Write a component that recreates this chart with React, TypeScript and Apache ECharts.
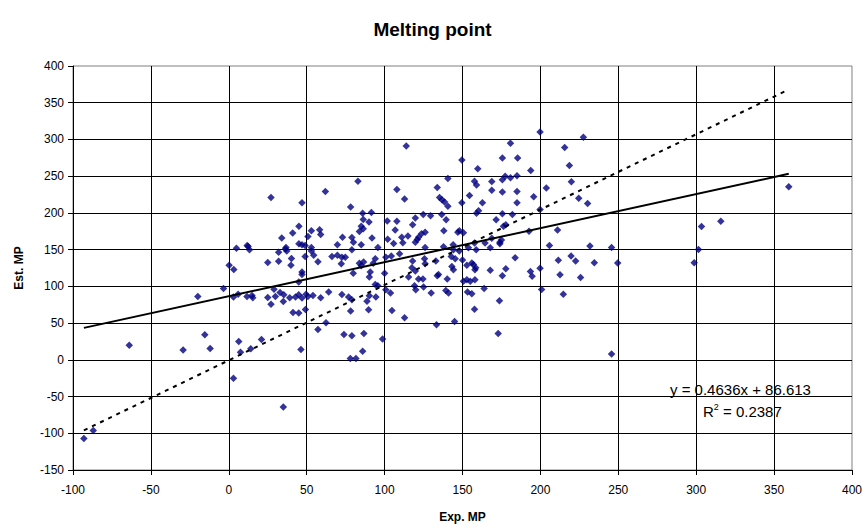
import React, { useEffect, useRef } from "react";
import * as echarts from "echarts";

const EXP_MP: number[] = [
  // upper-left block
  27.1, 47, 62, 45, 34, 41, 50.8, 53, 58.3, 59, 11.8, 4.9, 36.7, 45, 47, 49, 53, 69.7,
  // upper-middle block
  113.9, 149.6, 159.8, 82.9, 140.6, 107.9, 133.8, 157.7, 159, 112.8, 135.3, 136.8, 138.5, 140.6,
  154.5, 162.8, 149.6, 78.2, 85.9, 91.5, 160.3, 159, 101.7, 107.9, 90, 86.3, 85, 83.8, 86.3,
  119.7, 124.8, 129.5, 118, 136.7, 139.5, 138, 106.8, 111, 115, 102, 105.8, 111.7, 126, 123.7,
  121.8, 121, 119.7, 148, 150.6, 147, 73, 79, 80, 85, 91.9, 95.7, 126, 137.8, 144, 157.7, 164.5,
  // upper-right block
  199.8, 227.6, 180.8, 215.6, 175.6, 185.4, 218.6, 193.8, 168.8, 175.6, 177.4, 180.8, 185,
  219.9, 168.8, 175.6, 185, 203.8, 195.7, 224.6, 230.3, 185, 199.8, 175.6, 182, 171.6, 177.8,
  176.3, 192.7, 211, 168.8, 174, 175, 205.8, 231.8, 245.7,
  // lower-left block
  12.4, 13.3, 32, 36.3, 37.2, 40.2, 25, 32, 39.9, 0.2, 3.2, 47, 47, 44.9, 49, 53, 54.5, 57.2,
  66.2, 69.7, -3.4, 3, 6, 11.7, 14.9, 15.4, 25, 27.1, 29.9, 32.9, 35.3, 35, 39.1, 29, 42.8, 44.9,
  47, 49.6, 50.8, 54, 59, 64.1, 41.2, 44.9, 49.2, 62.4, 57.2, -15.4, -12, 6.4, 7.5, 14.1, 21, 46.3,
  // lower-middle block
  79, 72.6, 74.8, 72.2, 100.8, 104.3, 109.6, 94, 92.7, 83.8, 86.5, 85, 90.8, 90.2, 79.9, 100,
  118, 119.7, 117.5, 121.8, 124.6, 126, 125.6, 115.4, 119.2, 120, 125, 132.9, 134.6, 133.8,
  140.2, 143.2, 144.2, 142.8, 145.3, 144.2, 147.9, 129.9, 139.3, 141, 94, 95.7, 94.4, 100.8,
  103.8, 90.2, 88.7, 89.7, 79, 76.9, 72.6, 78.2, 104.7, 112.8, 133.3, 144.9, 73.9, 79, 86.7,
  98.7, 85.9, 78, 81.6, 150, 152.8, 157, 158.5, 156, 158, 152.8, 150.6, 155, 158, 163.9, 157.7,
  153.2, 156, 153.8, 158.8,
  // lower-right block
  167.8, 174, 183.8, 167.8, 177.8, 175.6, 193.6, 194.7, 199.8, 211.5, 219.7, 222.6, 234.6,
  249.6, 212.6, 225.8, 200.8, 214.7, 173.7, 172.9, 245.7,
  // outliers
  -63.9, -29.3, -87, -93, -19.9, 359.4, 315.8, 303.4, 301.5, 298.7, 3, 35,
];

const EST_MP: number[] = [
  221, 213.7, 229, 182, 166, 172.5, 168, 175.6, 177, 170.6, 155.6, 152, 153, 158, 156.6, 155.6, 153, 156.6,
  291, 272, 260, 243, 247, 232, 234.6, 243, 238, 218.8, 221, 218, 215, 209,
  223.7, 214, 213.7, 208, 199.7, 200.5, 203, 199.7, 189, 188.8, 187.5, 191, 182, 174.7, 178.4,
  193, 198, 196, 183.8, 198, 190.6, 175.6, 176.6, 167, 168.4, 164, 158.4, 159.3, 173.8, 171.5,
  167, 163.8, 160.2, 175.6, 172.9, 173.8, 167, 166.5, 160, 156.6, 166, 153, 153, 154, 156.6, 159, 159,
  310, 303, 295, 289, 274.6, 274.6, 264.5, 257.7, 242.8, 245, 250, 248, 250.5,
  242.3, 231, 228.3, 229, 234, 222, 220, 212.8, 213.7, 204.6, 198.8, 197.8, 190.6, 183.8,
  182, 175, 176.6, 165.6, 160.2, 163, 155.6, 154.8, 152.9,
  154.3, 149.8, 146.6, 150.7, 148, 138, 132.5, 134.3, 128.9, 128.9, 123, 119.4, 116.1, 105.8, 140.6, 148, 142.5, 133.4,
  140.6, 142.5, 97, 85.4, 89.3, 86.2, 87.5, 84.4, 84.8, 75.7, 86.2, 91.6, 88.5, 79.4, 84.4, 96, 85.4, 88.5,
  84, 89.4, 86.2, 87.5, 84.4, 92.2, 64.4, 63.6, 68.5, 50.4, 41.3, 34, 15.4, 24.9, 10.4, 15, 27.6, 14,
  149.8, 139.8, 139.8, 130.7, 139.8, 141.2, 144.3, 137.5, 131.6, 131.6, 133, 128, 119.4, 112.6, 118, 118,
  134.4, 120.8, 125.3, 109.9, 109.9, 130.7, 137.5, 112.6, 100.8, 95.3, 99, 134.4, 116.1, 114.4,
  109.9, 127, 122.5, 140.6, 137.5, 149.8, 148, 90.8, 94.3, 90.8, 102.5, 100.8, 85.4, 95.3,
  90.8, 87.1, 79.9, 68, 81.7, 85.4, 88.9, 66.3, 67.1, 57.2, 47.6, 52.1, 34.4, 32.7, 35.8,
  28.2, 11.8, 1.8, 1.8, 136, 128.9, 129.8, 125.3, 131.7, 122.5, 108.9, 107.1, 107.1, 108.9, 97, 69,
  92.2, 89.9, 152.5, 149.8,
  152.5, 157.9, 138.9, 122, 123.9, 114.4, 120.2, 113.9, 124.8, 135.7, 141.2, 134.4, 132,
  131.7, 115.7, 112, 95.7, 89.3, 80.3, 35.8, 7.8,
  20, 13.2, -96.2, -107, 86.2, 235.5, 188.8, 181.5, 150.2, 132, -25, -64.4,
];

// Linear trend line shown on the chart, and its labels
const TREND_SLOPE = 0.4636;
const TREND_INTERCEPT = 86.613;
const EQUATION_TEXT = "y = 0.4636x + 86.613";
const R_SQUARED_TEXT = "0.2387";

// Dashed reference (ideal-agreement) line, end points as drawn in the picture
const IDEAL_LINE_X: number[] = [-93, 359.4];
const IDEAL_LINE_Y: number[] = [-96, 368];

const FONT = '"Liberation Sans", Arial, sans-serif';

export default function App() {
  const ref = useRef<HTMLDivElement>(null);

  useEffect(() => {
    const el = ref.current;
    if (!el) return;
    const chart = echarts.init(el, null, { renderer: "svg" });

    const points = EXP_MP.map((x, i) => [x, EST_MP[i]]);
    const xMin = Math.min(...EXP_MP);
    const xMax = Math.max(...EXP_MP);
    const trend = [
      [xMin, TREND_SLOPE * xMin + TREND_INTERCEPT],
      [xMax, TREND_SLOPE * xMax + TREND_INTERCEPT],
    ];
    const ideal = IDEAL_LINE_X.map((x, i) => [x, IDEAL_LINE_Y[i]]);

    chart.setOption({
      animation: false,
      backgroundColor: "#ffffff",
      textStyle: { fontFamily: FONT },
      title: {
        text: "Melting point",
        left: "center",
        top: 15,
        textStyle: { fontFamily: FONT, fontWeight: "bold", fontSize: 19, color: "#000" },
      },
      grid: {
        left: 73,
        right: 12,
        top: 66,
        bottom: 58,
        show: true,
        borderColor: "#808080",
        borderWidth: 1,
        backgroundColor: "transparent",
      },
      xAxis: {
        type: "value",
        min: -100,
        max: 400,
        interval: 50,
        name: "Exp. MP",
        nameLocation: "middle",
        nameGap: 41,
        nameTextStyle: { fontFamily: FONT, fontWeight: "bold", fontSize: 12, color: "#000" },
        axisLine: { show: true, onZero: false, lineStyle: { color: "#000", width: 1 } },
        axisTick: { show: true, length: 5, lineStyle: { color: "#000" } },
        axisLabel: { fontFamily: FONT, fontSize: 12, color: "#000", margin: 14 },
        splitLine: { show: true, showMaxLine: false, lineStyle: { color: "#000", width: 1 } },
      },
      yAxis: {
        type: "value",
        min: -150,
        max: 400,
        interval: 50,
        name: "Est. MP",
        nameLocation: "middle",
        nameGap: 48,
        nameTextStyle: { fontFamily: FONT, fontWeight: "bold", fontSize: 12, color: "#000" },
        axisLine: { show: true, onZero: false, lineStyle: { color: "#000", width: 1 } },
        axisTick: { show: true, length: 5, lineStyle: { color: "#000" } },
        axisLabel: { fontFamily: FONT, fontSize: 12, color: "#000", margin: 9 },
        splitLine: { show: true, showMaxLine: false, lineStyle: { color: "#000", width: 1 } },
      },
      series: [
        {
          type: "scatter",
          data: points,
          symbol: "diamond",
          symbolSize: 7.5,
          itemStyle: { color: "#000080" },
          z: 2,
        },
        {
          type: "line",
          data: ideal,
          showSymbol: false,
          symbol: "none",
          lineStyle: { color: "#000", width: 2, type: [4, 5] },
          z: 3,
        },
        {
          type: "line",
          data: trend,
          showSymbol: false,
          symbol: "none",
          lineStyle: { color: "#000", width: 2 },
          z: 4,
        },
      ],
      graphic: [
        {
          type: "text",
          left: 670,
          top: 382,
          style: { text: EQUATION_TEXT, font: `15px ${FONT}`, fill: "#000" },
          z: 10,
        },
        {
          type: "text",
          left: 703,
          top: 402,
          style: {
            text: `R{sup|2} = ${R_SQUARED_TEXT}`,
            font: `15px ${FONT}`,
            fill: "#000",
            lineHeight: 18,
            rich: {
              sup: { fontSize: 9, fontFamily: FONT, verticalAlign: "top", lineHeight: 18, padding: [0, 0, 6, 0] },
            },
          },
          z: 10,
        },
      ],
    });

    return () => chart.dispose();
  }, []);

  return (
    <div
      ref={ref}
      style={{ position: "fixed", left: 0, top: 0, width: 865, height: 528, background: "#fff" }}
    />
  );
}
